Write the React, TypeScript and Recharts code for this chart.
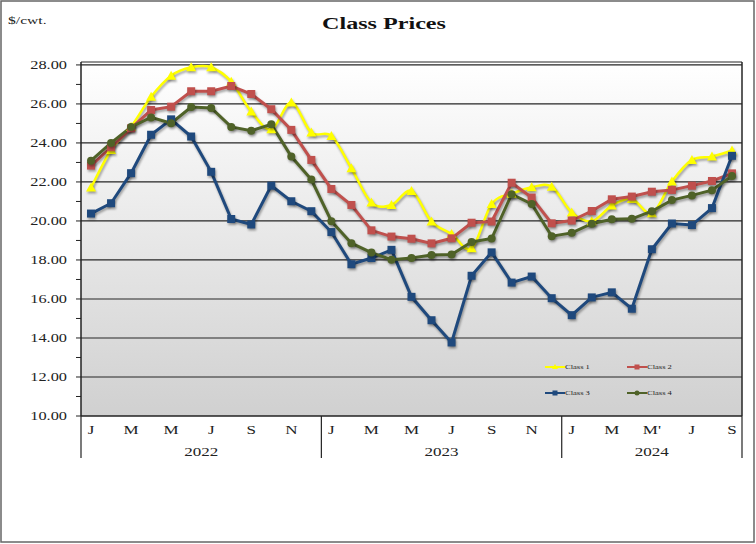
import { CartesianGrid, Legend, Line, LineChart, ReferenceLine, XAxis, YAxis } from "recharts";

// Jan 2022 .. Sep 2024, $/cwt
const class1 = [21.71, 23.64, 24.83, 26.37, 27.45, 27.88, 27.88, 27.14, 25.61, 24.70, 26.07, 24.53,
  24.36, 22.70, 20.94, 20.82, 21.54, 19.97, 19.33, 18.60, 20.87, 21.39, 21.73, 21.76,
  20.44, 19.98, 20.79, 21.13, 20.39, 22.02, 23.13, 23.30, 23.61];
const class2 = [22.84, 23.78, 24.75, 25.69, 25.86, 26.65, 26.65, 26.92, 26.51, 25.73, 24.67, 23.13,
  21.64, 20.82, 19.52, 19.20, 19.09, 18.85, 19.11, 19.91, 19.97, 21.96, 21.20, 19.88,
  20.02, 20.51, 21.11, 21.25, 21.50, 21.59, 21.81, 22.05, 22.44];
const class3 = [20.38, 20.91, 22.45, 24.42, 25.21, 24.33, 22.52, 20.10, 19.82, 21.81, 21.01, 20.50,
  19.43, 17.78, 18.10, 18.52, 16.11, 14.91, 13.77, 17.19, 18.39, 16.84, 17.15, 16.04,
  15.17, 16.08, 16.34, 15.50, 18.55, 19.87, 19.79, 20.66, 23.34];
const class4 = [23.09, 24.00, 24.82, 25.31, 25.01, 25.84, 25.79, 24.82, 24.63, 24.96, 23.30, 22.12,
  19.99, 18.86, 18.38, 18.01, 18.10, 18.26, 18.28, 18.92, 19.10, 21.37, 20.87, 19.22,
  19.39, 19.86, 20.09, 20.11, 20.50, 21.07, 21.31, 21.58, 22.31];

const monthLabels = ["J", "", "M", "", "M", "", "J", "", "S", "", "N", "",
  "J", "", "M", "", "M", "", "J", "", "S", "", "N", "",
  "J", "", "M", "", "M'", "", "J", "", "S"];
const years = ["2022", "2023", "2024"];
const yearStarts = [0, 12, 24, 33];
const yTicks = [10, 11, 12, 13, 14, 15, 16, 17, 18, 19, 20, 21, 22, 23, 24, 25, 26, 27, 28];
const gridValues = [12, 14, 16, 18, 20, 22, 24, 26, 28];

const YELLOW = "#FFFF00";
const RED = "#C0504D";
const BLUE = "#1F497D";
const GREEN = "#4F6228";
const FONT = "'Liberation Serif', 'Times New Roman', serif";
const SX = 1.42; // the original is stretched sideways

const data = class1.map((v, i) => ({ i, c1: v, c2: class2[i], c3: class3[i], c4: class4[i] }));

const sepTicks = yearStarts.map((s) => s - 0.5);
const monthTicks = monthLabels.map((l, i) => (l ? i : -1)).filter((i) => i >= 0);
const xTicks = [...sepTicks, ...monthTicks].sort((a, b) => a - b);
const yearTicks = years.map((_, k) => (yearStarts[k] + yearStarts[k + 1] - 1) / 2);

// excel-style smoothed line (catmull-rom through the points)
const smooth = (ctx: any) => {
  let pts: number[][] = [];
  return {
    areaStart() {},
    areaEnd() {},
    lineStart() { pts = []; },
    point(x: number, y: number) { pts.push([+x, +y]); },
    lineEnd() {
      if (!pts.length) return;
      ctx.moveTo(pts[0][0], pts[0][1]);
      for (let k = 0; k < pts.length - 1; k++) {
        const p0 = pts[Math.max(k - 1, 0)], p1 = pts[k], p2 = pts[k + 1], p3 = pts[Math.min(k + 2, pts.length - 1)];
        ctx.bezierCurveTo(
          p1[0] + (p2[0] - p0[0]) / 6, p1[1] + (p2[1] - p0[1]) / 6,
          p2[0] - (p3[0] - p1[0]) / 6, p2[1] - (p3[1] - p1[1]) / 6,
          p2[0], p2[1]);
      }
    },
  };
};

const square = (color: string, s = 4) => (p: any) =>
  <rect key={p.index} x={p.cx - s} y={p.cy - s} width={s * 2} height={s * 2} fill={color} />;
const circle = (color: string, r = 4) => (p: any) =>
  <circle key={p.index} cx={p.cx} cy={p.cy} r={r} fill={color} />;
const triangle = (color: string, s = 5) => (p: any) =>
  <polygon key={p.index} points={`${p.cx},${p.cy - s} ${p.cx + s},${p.cy + s * 0.8} ${p.cx - s},${p.cy + s * 0.8}`} fill={color} />;

const YTick = ({ x, y, payload }: any) =>
  payload.value % 2 ? <g /> : (
    <text transform={`translate(${x},${y + 4}) scale(${SX},1)`} textAnchor="end" fontSize={11.5}
      fontFamily={FONT} fill="#222">{payload.value.toFixed(2)}</text>
  );

const MonthTick = ({ x, y, payload }: any) => {
  const v = payload.value;
  if (!Number.isInteger(v)) return <line x1={x} x2={x} y1={y} y2={y + 42} stroke="#222" strokeWidth={1.2} />;
  return (
    <text transform={`translate(${x},${y + 18}) scale(${SX},1)`} textAnchor="middle" fontSize={12}
      fontFamily={FONT} fill="#222">{monthLabels[v]}</text>
  );
};

const YearTick = ({ x, y, index }: any) => (
  <text transform={`translate(${x},${y + 10}) scale(${SX},1)`} textAnchor="middle" fontSize={12}
    fontFamily={FONT} fill="#222">{years[index]}</text>
);

const legendItems = [
  { name: "Class 1", color: YELLOW, mark: "tri", col: 0, row: 0 },
  { name: "Class 2", color: RED, mark: "sq", col: 1, row: 0 },
  { name: "Class 3", color: BLUE, mark: "sq", col: 0, row: 1 },
  { name: "Class 4", color: GREEN, mark: "ci", col: 1, row: 1 },
];

const LegendBox = () => (
  <svg width={150} height={50}>
    {legendItems.map((it) => {
      const x = 5 + it.col * 82, y = 12 + it.row * 26;
      return (
        <g key={it.name}>
          <line x1={x} x2={x + 20} y1={y} y2={y} stroke={it.color} strokeWidth={2} />
          {it.mark === "tri" && <polygon points={`${x + 10},${y - 3} ${x + 13},${y + 2} ${x + 7},${y + 2}`} fill={it.color} />}
          {it.mark === "sq" && <rect x={x + 7.5} y={y - 2.5} width={5} height={5} fill={it.color} />}
          {it.mark === "ci" && <circle cx={x + 10} cy={y} r={2.5} fill={it.color} />}
          <text transform={`translate(${x + 20},${y + 2}) scale(${SX},1)`} fontSize={6} fontFamily={FONT} fill="#222">{it.name}</text>
        </g>
      );
    })}
  </svg>
);

export default function App() {
  return (
    <div style={{ position: "relative", width: 756, height: 544, background: "#fff" }}>
      <style>{`body{margin:0}
        .recharts-line-curve,.recharts-line-dots{filter:drop-shadow(1.5px 2px 1.2px rgba(0,0,0,0.35))}`}</style>
      <LineChart width={756} height={544} data={data} margin={{ top: 62, right: 14, bottom: 68, left: 0 }}>
        <defs>
          <linearGradient id="plotBg" x1="0" y1="0" x2="0" y2="1">
            <stop offset="0%" stopColor="#ffffff" />
            <stop offset="100%" stopColor="#d0d0d0" />
          </linearGradient>
        </defs>
        <CartesianGrid horizontal={false} vertical={false} fill="url(#plotBg)" fillOpacity={1} />
        <XAxis dataKey="i" type="number" domain={[-0.5, 32.5]} ticks={xTicks} interval={0}
          tickLine={false} tickSize={0} tickMargin={0} height={30} tick={<MonthTick />}
          axisLine={{ stroke: "#222", strokeWidth: 1.5 }} allowDataOverflow />
        <XAxis xAxisId="year" dataKey="i" type="number" domain={[-0.5, 32.5]} ticks={yearTicks} interval={0}
          tickLine={false} axisLine={false} tickSize={0} tickMargin={0} height={30} tick={<YearTick />}
          allowDataOverflow />
        <YAxis type="number" domain={[10, 28.15]} ticks={yTicks} interval={0} width={81} tickSize={5} tickMargin={9}
          tickLine={{ stroke: "#222" }} axisLine={{ stroke: "#222", strokeWidth: 1.5 }} tick={<YTick />}
          allowDataOverflow />
        {gridValues.map((v) => (
          <ReferenceLine key={v} y={v} stroke="#262626" strokeWidth={1.2} />
        ))}
        <ReferenceLine y={28.15} stroke="#262626" strokeWidth={1.2} />
        <ReferenceLine x={32.5} stroke="#262626" strokeWidth={1.5} />
        <Legend layout="horizontal" align="center" verticalAlign="middle" content={<LegendBox />}
          wrapperStyle={{ left: 540, top: 355, width: 150, height: 50 }} />
        <Line dataKey="c1" name="Class 1" type={smooth as any} stroke={YELLOW} strokeWidth={2.5}
          dot={triangle(YELLOW)} activeDot={false} isAnimationActive={false} />
        <Line dataKey="c2" name="Class 2" type="linear" stroke={RED} strokeWidth={3}
          dot={square(RED)} activeDot={false} isAnimationActive={false} />
        <Line dataKey="c3" name="Class 3" type="linear" stroke={BLUE} strokeWidth={3}
          dot={square(BLUE)} activeDot={false} isAnimationActive={false} />
        <Line dataKey="c4" name="Class 4" type="linear" stroke={GREEN} strokeWidth={3}
          dot={circle(GREEN)} activeDot={false} isAnimationActive={false} />
      </LineChart>
      <svg width={756} height={544} style={{ position: "absolute", left: 0, top: 0, pointerEvents: "none" }}>
        <rect x={1} y={1} width={753} height={541} fill="none" stroke="#666" strokeWidth={1.5} />
        <text transform={`translate(8,24) scale(${SX},1)`} fontSize={11} fontFamily={FONT} fill="#222">$/cwt.</text>
        <text transform={`translate(384,29) scale(${SX},1)`} textAnchor="middle" fontSize={17} fontWeight="bold"
          fontFamily={FONT} fill="#111">Class Prices</text>
      </svg>
    </div>
  );
}
